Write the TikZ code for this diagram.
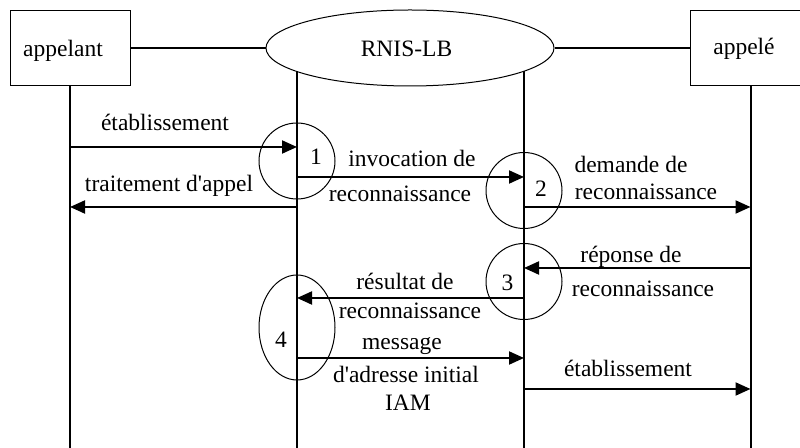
\documentclass[tikz,border=0pt]{standalone}
\usepackage{fontspec}
\setmainfont{Liberation Serif}[Ligatures=TeXOff]
\usetikzlibrary{arrows.meta,shapes.geometric}
\begin{document}
\begin{tikzpicture}[x=0.5pt,y=-0.5pt,
  lbl/.style={inner sep=0pt,anchor=base,font=\fontsize{11.75}{14}\selectfont},
  party/.style={draw,line width=0.5pt,inner sep=0pt,minimum width=60pt,minimum height=37.5pt},
  net/.style={draw,line width=0.5pt,ellipse,inner sep=0pt,minimum width=144pt,minimum height=38pt},
  life/.style={line width=1pt},
  msg/.style={line width=1pt,-{Triangle[length=7.5pt,width=6.5pt]}},
  phase/.style={draw,line width=0.5pt,circle,inner sep=0pt,minimum size=38pt},
  phaseoval/.style={draw,line width=0.5pt,ellipse,inner sep=0pt,minimum width=38pt,minimum height=52.5pt},
]
\useasboundingbox (0,0) rectangle (800,448);

% participants
\node[party] (appelant) at (70,48) {};
\node[lbl] (appelantT) at (63,57) {appelant};
\node[net] (rnis) at (410,48) {};
\node[lbl] (rnisT) at (406.5,57) {RNIS-LB};
\node[party] (appele) at (750.5,48) {};
\node[lbl] (appeleT) at (744,55) {appelé};

\draw[life] (appelant.east) -- (appelant.east -| rnis.west);
\draw[life] (rnis.east) -- (rnis.east -| appele.west);

% lifelines
\coordinate (rLtop) at (297,71.5);
\coordinate (rRtop) at (524,71.5);
\coordinate (aBot) at (70,448);
\coordinate (rLbot) at (297,448);
\coordinate (rRbot) at (524,448);
\coordinate (bBot) at (750.5,448);
\draw[life] (appelant.south) -- (aBot);
\draw[life] (rLtop) -- (rLbot);
\draw[life] (rRtop) -- (rRbot);
\draw[life] (appele.south) -- (bBot);

% phases
\node[phase] (c1) at (297,161) {};
\node[lbl] (n1) at (316,165) {1};
\node[phase] (c2) at (524,190.5) {};
\node[lbl] (n2) at (541,197) {2};
\node[phase] (c3) at (524,281.5) {};
\node[lbl] (n3) at (507.5,291) {3};
\node[phaseoval] (c4) at (297,327.5) {};
\node[lbl] (n4) at (281,348) {4};

% message end points
\coordinate (m1a) at (70,147);   \coordinate (m1b) at (297,147);
\coordinate (m2a) at (297,207);  \coordinate (m2b) at (70,207);
\coordinate (m3a) at (297,177);  \coordinate (m3b) at (524,177);
\coordinate (m4a) at (524,207);  \coordinate (m4b) at (750.5,207);
\coordinate (m5a) at (750.5,268);\coordinate (m5b) at (524,268);
\coordinate (m6a) at (524,298);  \coordinate (m6b) at (297,298);
\coordinate (m7a) at (297,358);  \coordinate (m7b) at (524,358);
\coordinate (m8a) at (524,389);  \coordinate (m8b) at (750.5,389);

\draw[msg] (m1a) -- (m1b);
\draw[msg] (m2a) -- (m2b);
\draw[msg] (m3a) -- (m3b);
\draw[msg] (m4a) -- (m4b);
\draw[msg] (m5a) -- (m5b);
\draw[msg] (m6a) -- (m6b);
\draw[msg] (m7a) -- (m7b);
\draw[msg] (m8a) -- (m8b);

% message labels
\node[lbl] (t1) at (165,131) {établissement};
\node[lbl] (t2) at (169,192) {traitement d'appel};
\node[lbl] (t3a) at (412,167) {invocation de};
\node[lbl] (t3b) at (400,202) {reconnaissance};
\node[lbl] (t4a) at (631,173) {demande de};
\node[lbl] (t4b) at (646,200) {reconnaissance};
\node[lbl] (t5a) at (631,263) {réponse de};
\node[lbl] (t5b) at (643,297) {reconnaissance};
\node[lbl] (t6a) at (405,290) {résultat de};
\node[lbl] (t6b) at (410,319) {reconnaissance};
\node[lbl] (t7a) at (402,350) {message};
\node[lbl] (t7b) at (406,383) {d'adresse initial};
\node[lbl] (t7c) at (408,411) {IAM};
\node[lbl] (t8) at (628,377) {établissement};
\end{tikzpicture}
\end{document}
